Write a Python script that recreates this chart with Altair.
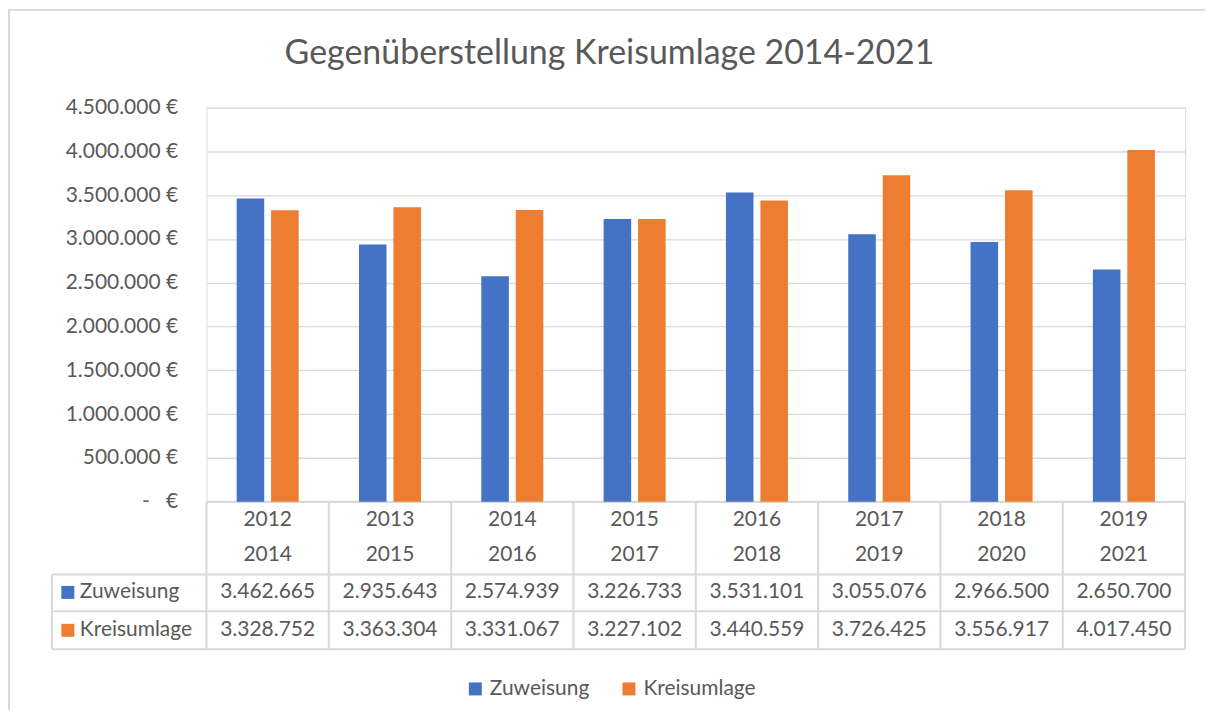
import altair as alt
import pandas as pd

# ---- data ----
years_a = ["2012", "2013", "2014", "2015", "2016", "2017", "2018", "2019"]
years_b = ["2014", "2015", "2016", "2017", "2018", "2019", "2020", "2021"]
zuweisung = [3462665, 2935643, 2574939, 3226733, 3531101, 3055076, 2966500, 2650700]
kreisumlage = [3328752, 3363304, 3331067, 3227102, 3440559, 3726425, 3556917, 4017450]
series_names = ["Zuweisung", "Kreisumlage"]
series_colors = ["#4472C4", "#ED7D31"]
y_ticks = [0, 500000, 1000000, 1500000, 2000000, 2500000, 3000000, 3500000, 4000000, 4500000]
title_text = "Gegenüberstellung Kreisumlage 2014-2021"

cats = [f"{a}/{b}" for a, b in zip(years_a, years_b)]
rows = []
for i, c in enumerate(cats):
    rows.append(dict(cat=c, series="Zuweisung", value=zuweisung[i]))
    rows.append(dict(cat=c, series="Kreisumlage", value=kreisumlage[i]))
df = pd.DataFrame(rows)
df_cats = pd.DataFrame({"cat": cats, "a": years_a, "b": years_b})
one = pd.DataFrame({"d": [0]})

FONT = "Lato"
TXT = "#595959"
LINE = "#D9D9D9"
W, H = 981, 395

xscale = alt.Scale(domain=cats, paddingInner=0, paddingOuter=0)


def xenc(**kw):
    return alt.X("cat:N", sort=cats, scale=xscale, axis=None, **kw)


de_fmt = "replace(format(datum.value, ','), regexp(',', 'g'), '.')"

bars = alt.Chart(df).mark_bar().encode(
    x=xenc(),
    xOffset=alt.XOffset("series:N", sort=series_names,
                        scale=alt.Scale(domain=series_names, paddingInner=0.2, paddingOuter=0.875)),
    y=alt.Y("value:Q", scale=alt.Scale(domain=[0, 4500000], nice=False),
            axis=alt.Axis(values=y_ticks, title=None, domain=False, ticks=False,
                          grid=True, gridColor=LINE, gridWidth=1.3,
                          labelPadding=29, labelFont=FONT, labelFontSize=21, labelColor=TXT,
                          labelExpr="datum.value == 0 ? '-\u00a0\u00a0\u00a0€' : " + de_fmt + " + ' €'")),
    color=alt.Color("series:N", sort=series_names,
                    scale=alt.Scale(domain=series_names, range=series_colors),
                    legend=alt.Legend(orient="none", legendX=259, legendY=572, direction="horizontal",
                                      title=None, symbolType="square", symbolSize=169,
                                      symbolStrokeWidth=0, labelFont=FONT, labelFontSize=21,
                                      labelColor=TXT, labelOffset=4, columnPadding=29, padding=0)),
)

text_base = dict(font=FONT, fontSize=21, color=TXT, baseline="middle")

head1 = alt.Chart(df_cats).mark_text(**text_base).encode(x=xenc(), y=alt.value(413), text="a:N")
head2 = alt.Chart(df_cats).mark_text(**text_base).encode(x=xenc(), y=alt.value(449), text="b:N")

row_y = [486, 524]
row_layers = []
for s, col, ry in zip(series_names, series_colors, row_y):
    row_layers.append(
        alt.Chart(df).transform_filter(alt.datum.series == s)
        .transform_calculate(lbl=de_fmt)
        .mark_text(**text_base).encode(x=xenc(), y=alt.value(ry), text="lbl:N")
    )
    row_layers.append(
        alt.Chart(one).mark_square(size=169, color=col, opacity=1)
        .encode(x=alt.value(-139), y=alt.value(ry))
    )
    row_layers.append(
        alt.Chart(one).mark_text(align="left", **text_base)
        .encode(x=alt.value(-127), y=alt.value(ry), text=alt.value(s))
    )

vlines = alt.Chart(df_cats).mark_rule(color=LINE, strokeWidth=2).encode(
    x=xenc(bandPosition=0), y=alt.value(395), y2=alt.value(543))
vright = alt.Chart(one).mark_rule(color=LINE, strokeWidth=2).encode(
    x=alt.value(W), y=alt.value(395), y2=alt.value(543))
vleft = alt.Chart(one).mark_rule(color=LINE, strokeWidth=2).encode(
    x=alt.value(-155), y=alt.value(468), y2=alt.value(543))
htop = alt.Chart(one).mark_rule(color=LINE, strokeWidth=2).encode(
    x=alt.value(0), x2=alt.value(W), y=alt.value(395))
hlines = [
    alt.Chart(one).mark_rule(color=LINE, strokeWidth=2).encode(
        x=alt.value(-155), x2=alt.value(W), y=alt.value(yy))
    for yy in [468, 505, 543]
]

border = alt.Chart(one).mark_rect(fillOpacity=0, stroke=LINE, strokeWidth=2).encode(
    x=alt.value(-198), x2=alt.value(1100), y=alt.value(-98), y2=alt.value(800))

title = alt.Chart(one).mark_text(font=FONT, fontSize=34, color=TXT, baseline="middle").encode(
    x=alt.value(404), y=alt.value(-54), text=alt.value(title_text))

chart = alt.layer(
    border, vlines, vright, vleft, htop, *hlines, bars, head1, head2, *row_layers, title
).properties(
    width=W, height=H,
    autosize=alt.AutoSizeParams(type="none"),
    padding={"left": 199, "top": 99, "right": 20, "bottom": 208},
).configure_view(stroke=None).configure(background="white")

chart.save("out.html", embed_options={"renderer": "svg", "actions": False})
